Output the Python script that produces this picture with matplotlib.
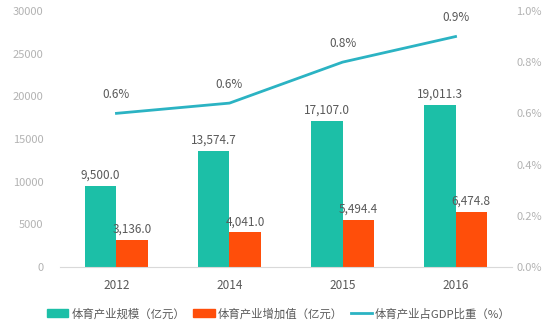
import matplotlib.pyplot as plt
from matplotlib.lines import Line2D
from matplotlib.patches import Patch
import numpy as np

plt.rcParams['font.family'] = ['Noto Sans CJK SC', 'DejaVu Sans']

# 数据
years = ['2012', '2014', '2015', '2016']
scale = [9500.0, 13574.7, 17107.0, 19011.3]        # 体育产业规模（亿元）
added = [3136.0, 4041.0, 5494.4, 6474.8]           # 体育产业增加值（亿元）
gdp_ratio = [0.60, 0.64, 0.80, 0.90]               # 体育产业占GDP比重（%）

teal = '#1CBFA7'
orange = '#FF4E0A'
line_c = '#2BB3C3'
tick_c = '#B3B3B3'
label_c = '#595959'

fig = plt.figure(figsize=(5.5, 3.32), dpi=100)
ax = fig.add_axes([0.109, 0.196, 0.822, 0.771])
ax2 = ax.twinx()

x = np.arange(len(years))
w = 0.28
b1 = ax.bar(x - w / 2, scale, w, color=teal, zorder=2)
b2 = ax.bar(x + w / 2, added, w, color=orange, zorder=2)

for rect, v in zip(b1, scale):
    ax.text(rect.get_x() + rect.get_width() / 2, v + 500, f'{v:,.1f}',
            ha='center', va='bottom', fontsize=8.5, color=label_c)
for rect, v in zip(b2, added):
    ax.text(rect.get_x() + rect.get_width() / 2, v + 500, f'{v:,.1f}',
            ha='center', va='bottom', fontsize=8.5, color=label_c)

ax2.plot(x, gdp_ratio, color=line_c, lw=2, zorder=3)
for xi, v in zip(x, gdp_ratio):
    ax2.text(xi, v + 0.048, f'{v:.1f}%', ha='center', va='bottom',
             fontsize=8.5, color=label_c)

ax.set_xlim(-0.5, 3.5)
ax.set_ylim(0, 30000)
ax.set_yticks(range(0, 30001, 5000))
ax2.set_ylim(0, 1.0)
ax2.set_yticks(np.arange(0, 1.01, 0.2))
ax2.set_yticklabels([f'{t:.1f}%' for t in np.arange(0, 1.01, 0.2)])

ax.set_xticks(x)
ax.set_xticklabels(years)

for a in (ax, ax2):
    for s in a.spines.values():
        s.set_visible(False)
    a.tick_params(length=0, labelsize=8, colors=tick_c)
ax.tick_params(axis='x', colors=label_c, pad=9, labelsize=8.5)
ax.spines['bottom'].set_visible(True)
ax.spines['bottom'].set_color('#D9D9D9')
ax.tick_params(axis='y', pad=12)
ax2.tick_params(axis='y', pad=3)

handles = [Patch(color=teal, label='体育产业规模（亿元）'),
           Patch(color=orange, label='体育产业增加值（亿元）'),
           Line2D([], [], color=line_c, lw=2, label='体育产业占GDP比重（%）')]
fig.legend(handles=handles, loc='center', bbox_to_anchor=(0.507, 0.055), ncol=3,
           frameon=False, fontsize=8.2, labelcolor=label_c, handlelength=1.9,
           handleheight=0.7, handletextpad=0.25, columnspacing=0.7)

fig.savefig('out.png', dpi=100)
